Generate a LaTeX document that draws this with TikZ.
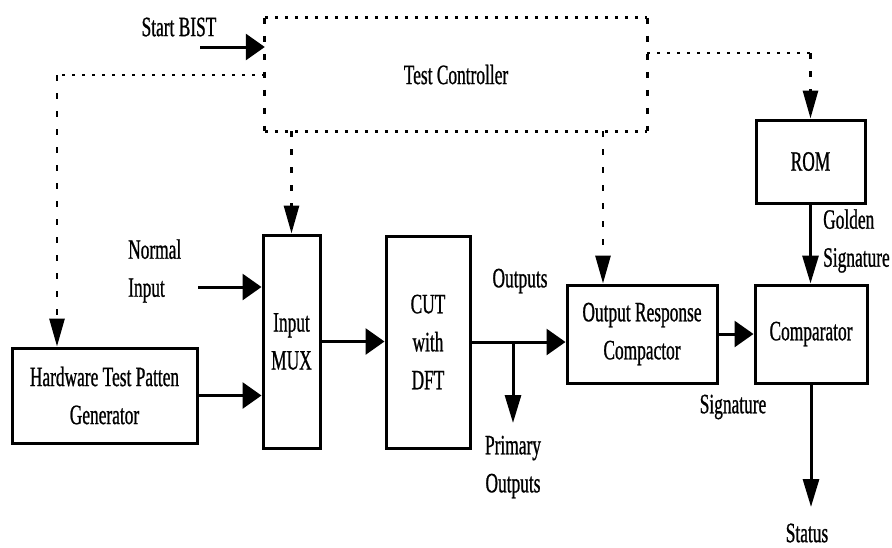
\documentclass[tikz,border=0pt]{standalone}
\usepackage{fontspec}
\setmainfont{Liberation Serif}[FakeStretch=0.62,FakeBold=0.8]
\usetikzlibrary{arrows.meta,calc}
\newcommand\dfont{\fontsize{28}{38}\selectfont}
\begin{document}
\begin{tikzpicture}[x=1pt,y=-1pt,
  every node/.style={font=\dfont,inner sep=0pt,align=center},
  blk/.style={draw,line width=3pt,rectangle},
  hline/.style={line width=3pt,-{Triangle[length=19pt,width=26pt]}},
  vline/.style={line width=3pt,-{Triangle[length=28pt,width=16pt]}},
  hdot/.style={line width=2.8pt,dash pattern=on 3pt off 7pt},
  vdot/.style={line width=2.8pt,dash pattern=on 6pt off 12pt},
  vdotarrow/.style={vdot,-{Triangle[length=28pt,width=15pt]}}
]
\useasboundingbox[fill=white] (0,0) rectangle (892,547);

% Test controller
\node[minimum width=382pt,minimum height=113pt] (tc) at (456,74.5) {Test Controller};
\draw[hdot] (tc.north west) -- (tc.north east);
\draw[hdot] (tc.south west) -- (tc.south east);
\draw[vdot] (tc.north west) -- (tc.south west);
\draw[vdot] (tc.north east) -- (tc.south east);

% blocks
\node[blk,minimum width=185pt,minimum height=95pt] (htpg) at (104.5,395.5) {Hardware Test Patten\\Generator};
\node[blk,minimum width=57pt,minimum height=213pt] (mux) at (291.5,341.5) {Input\\MUX};
\node[blk,minimum width=84pt,minimum height=212pt] (cut) at (428,342) {CUT\\with\\DFT};
\node[blk,minimum width=150pt,minimum height=98pt] (orc) at (642,334) {Output Response\\Compactor};
\node[blk,minimum width=112pt,minimum height=98pt] (comp) at (811,334) {Comparator};
\node[blk,minimum width=109pt,minimum height=83pt] (rom) at (810.5,161.5) {ROM};

% labels
\node (lsb) at (179,27) {Start BIST};
\node[anchor=west,align=left] (lni) at (128,271) {Normal\\Input};
\node (lout) at (520,281) {Outputs};
\node (lpo) at (513,467) {Primary\\Outputs};
\node (lsig) at (733,407) {Signature};
\node[anchor=west,align=left] (lgs) at (823,241) {Golden\\Signature};
\node (lst) at (807,533) {Status};

% coordinates
\coordinate (sb) at (200,47);
\coordinate (lc) at (57,75);
\coordinate (oc) at (603,0);
\coordinate (rc) at (0,53);
\coordinate (ni) at (198,287);
\coordinate (po) at (513,423);
\coordinate (st) at (811,507);

% control (dotted)
\draw[hline] (sb) -- (sb -| tc.west);
\draw[hdot] (tc.west |- lc) -- (lc);
\draw[vdotarrow] (lc) -- (lc |- htpg.north);
\draw[vdotarrow] (tc.south -| mux.north) -- (mux.north);
\draw[vdotarrow] (tc.south -| oc) -- (orc.north -| oc);
\draw[hdot] (tc.east |- rc) -- (rom.north |- rc);
\draw[vdotarrow] (rom.north |- rc) -- (rom.north);

% data
\draw[hline] (ni) -- (ni -| mux.west);
\draw[hline] (htpg.east) -- (htpg.east -| mux.west);
\draw[hline] (mux.east) -- (mux.east -| cut.west);
\draw[hline] (cut.east) -- (cut.east -| orc.west);
\draw[vline] (po |- cut.east) -- (po);
\draw[hline] (orc.east) -- (orc.east -| comp.west);
\draw[vline] (rom.south) -- (rom.south |- comp.north);
\draw[vline] (comp.south) -- (comp.south |- st);
\end{tikzpicture}
\end{document}
